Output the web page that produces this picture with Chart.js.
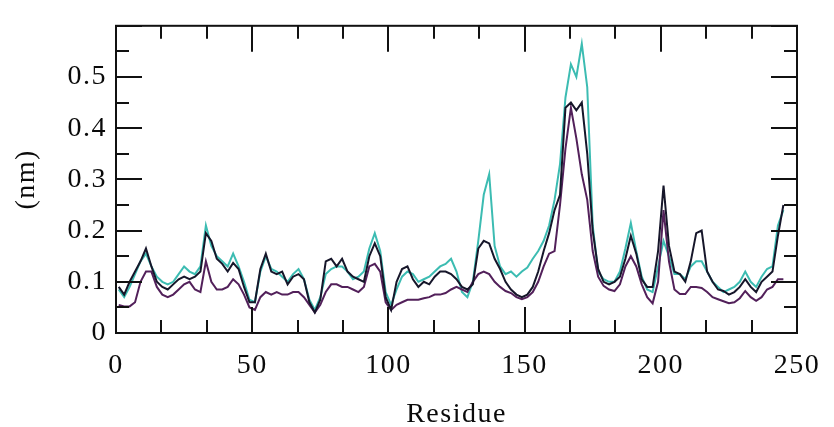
<!DOCTYPE html>
<html lang="en">

<head>
    <meta charset="UTF-8">
    <title>RMSF per residue</title>
    <script src="https://cdn.jsdelivr.net/npm/chart.js@4.4.0/dist/chart.umd.min.js"></script>
    <style>
        body { margin: 0; background: #fff; }
        #chart { display: block; }
    </style>
</head>

<body>
    <canvas id="chart" width="834" height="427"></canvas>
    <script>
        // residue numbers (every second residue)
        const residues = [];
        for (let r = 1; r <= 245; r += 2) residues.push(r);

        const rmsfBlack = [
            0.09, 0.075, 0.10, 0.12, 0.14, 0.165, 0.13, 0.10, 0.09, 0.085,
            0.095, 0.105, 0.11, 0.105, 0.11, 0.12, 0.195, 0.18, 0.145, 0.135,
            0.12, 0.137, 0.125, 0.09, 0.06, 0.06, 0.125, 0.155, 0.12, 0.115,
            0.12, 0.095, 0.11, 0.115, 0.105, 0.06, 0.04, 0.065, 0.14, 0.145,
            0.13, 0.145, 0.12, 0.11, 0.105, 0.10, 0.15, 0.175, 0.15, 0.07,
            0.045, 0.10, 0.125, 0.13, 0.105, 0.09, 0.10, 0.095, 0.11, 0.12,
            0.12, 0.115, 0.105, 0.09, 0.085, 0.095, 0.165, 0.18, 0.175, 0.145,
            0.125, 0.10, 0.085, 0.075, 0.07, 0.075, 0.09, 0.12, 0.16, 0.195,
            0.24, 0.27, 0.44, 0.45, 0.435, 0.45, 0.35, 0.20, 0.125, 0.10,
            0.095, 0.10, 0.11, 0.145, 0.19, 0.155, 0.105, 0.09, 0.09, 0.16,
            0.288, 0.17, 0.12, 0.115, 0.10, 0.14, 0.195, 0.20, 0.12, 0.10,
            0.085, 0.082, 0.075, 0.08, 0.09, 0.105, 0.09, 0.08, 0.10, 0.11,
            0.12, 0.19, 0.25
        ];

        const rmsfCyan = [
            0.085, 0.07, 0.09, 0.115, 0.14, 0.155, 0.13, 0.11, 0.10, 0.095,
            0.10, 0.115, 0.13, 0.12, 0.115, 0.13, 0.21, 0.17, 0.15, 0.14,
            0.13, 0.155, 0.13, 0.10, 0.065, 0.06, 0.12, 0.15, 0.125, 0.12,
            0.11, 0.10, 0.115, 0.125, 0.105, 0.065, 0.045, 0.07, 0.115, 0.125,
            0.13, 0.13, 0.12, 0.105, 0.11, 0.12, 0.165, 0.195, 0.16, 0.08,
            0.055, 0.085, 0.11, 0.12, 0.115, 0.10, 0.105, 0.11, 0.12, 0.13,
            0.135, 0.145, 0.12, 0.08, 0.07, 0.10, 0.18, 0.27, 0.31, 0.17,
            0.13, 0.115, 0.12, 0.11, 0.12, 0.128, 0.145, 0.16, 0.18, 0.21,
            0.26, 0.33, 0.46, 0.525, 0.50, 0.565, 0.48, 0.21, 0.12, 0.105,
            0.10, 0.10, 0.12, 0.165, 0.215, 0.16, 0.11, 0.085, 0.08, 0.13,
            0.18, 0.15, 0.115, 0.115, 0.105, 0.13, 0.14, 0.14, 0.12, 0.10,
            0.09, 0.08, 0.085, 0.09, 0.10, 0.12, 0.10, 0.09, 0.11, 0.125,
            0.13, 0.21, 0.24
        ];

        const rmsfPurple = [
            0.055, 0.052, 0.052, 0.06, 0.10, 0.12, 0.12, 0.09, 0.075, 0.07,
            0.075, 0.085, 0.095, 0.10, 0.085, 0.08, 0.14, 0.10, 0.085, 0.085,
            0.09, 0.105, 0.095, 0.075, 0.05, 0.045, 0.07, 0.08, 0.075, 0.08,
            0.075, 0.075, 0.08, 0.08, 0.07, 0.055, 0.04, 0.055, 0.08, 0.095,
            0.095, 0.09, 0.09, 0.085, 0.08, 0.09, 0.13, 0.135, 0.12, 0.06,
            0.045, 0.055, 0.06, 0.065, 0.065, 0.065, 0.068, 0.07, 0.075, 0.075,
            0.078, 0.085, 0.09, 0.085, 0.08, 0.10, 0.115, 0.12, 0.115, 0.10,
            0.09, 0.082, 0.078, 0.07, 0.066, 0.07, 0.08, 0.10, 0.13, 0.155,
            0.16, 0.25, 0.36, 0.44, 0.38, 0.31, 0.26, 0.16, 0.11, 0.092,
            0.085, 0.082, 0.095, 0.13, 0.15, 0.13, 0.095, 0.07, 0.058, 0.10,
            0.24, 0.14, 0.085, 0.076, 0.076, 0.09, 0.09, 0.088, 0.08, 0.07,
            0.066, 0.062, 0.058, 0.06, 0.068, 0.082, 0.07, 0.063, 0.07, 0.085,
            0.09, 0.105, 0.105
        ];

        const xTicks = [0, 50, 100, 150, 200, 250];
        const yTicks = [0, 0.1, 0.2, 0.3, 0.4, 0.5];

        const toPoints = vals => vals.map((v, i) => ({ x: residues[i], y: v }));

        // the original lettering is a wide Times face, so space it out a little
        const spacingPlugin = {
            id: 'spacing',
            beforeDraw(chart) { chart.ctx.letterSpacing = '1.5px'; },
            afterDraw(chart) { chart.ctx.letterSpacing = '0px'; }
        };

        // frame and inward tick marks (major + minor) on all four sides
        const framePlugin = {
            id: 'frame',
            afterDraw(chart) {
                const { ctx, chartArea: a, scales: { x, y } } = chart;
                ctx.save();
                ctx.strokeStyle = '#111';
                ctx.lineWidth = 2;
                ctx.strokeRect(a.left, a.top, a.right - a.left, a.bottom - a.top);
                ctx.beginPath();
                for (let v = 0; v <= 250.01; v += 50 / 3) {
                    const major = Math.abs(v / 50 - Math.round(v / 50)) < 0.01;
                    const len = major ? 26 : 13;
                    const px = Math.round(x.getPixelForValue(v));
                    ctx.moveTo(px, a.bottom); ctx.lineTo(px, a.bottom - len);
                    ctx.moveTo(px, a.top); ctx.lineTo(px, a.top + len);
                }
                for (let v = 0.05; v <= 0.6; v += 0.05) {
                    const major = Math.abs(v * 10 - Math.round(v * 10)) < 0.01;
                    const len = major ? 26 : 13;
                    const py = Math.round(y.getPixelForValue(v));
                    ctx.moveTo(a.left, py); ctx.lineTo(a.left + len, py);
                    ctx.moveTo(a.right, py); ctx.lineTo(a.right - len, py);
                }
                ctx.stroke();
                ctx.restore();
            }
        };

        const font = { family: '"Liberation Serif", "Times New Roman", serif', size: 28 };

        new Chart(document.getElementById('chart'), {
            type: 'line',
            data: {
                datasets: [
                    { data: toPoints(rmsfBlack), borderColor: '#16162a' },
                    { data: toPoints(rmsfPurple), borderColor: '#52205a' },
                    { data: toPoints(rmsfCyan), borderColor: '#3cbcb2' }
                ]
            },
            options: {
                responsive: false,
                animation: false,
                parsing: false,
                datasets: {
                    line: { borderWidth: 2, pointRadius: 0, tension: 0, fill: false }
                },
                layout: { padding: { top: 16, right: 30, left: 0, bottom: 0 } },
                plugins: { legend: { display: false }, tooltip: { enabled: false } },
                scales: {
                    x: {
                        type: 'linear', min: 0, max: 250,
                        grid: { display: false, drawTicks: false },
                        border: { display: false },
                        afterBuildTicks: s => { s.ticks = xTicks.map(v => ({ value: v })); },
                        afterFit: s => { s.height = 94; },
                        ticks: { color: '#0a0a0a', font, padding: 16, maxRotation: 0 },
                        title: { display: true, text: 'Residue', color: '#0a0a0a', font: { ...font, lineHeight: 1.2 }, padding: { top: 0, bottom: -4 } }
                    },
                    y: {
                        type: 'linear', min: 0, max: 0.6,
                        grid: { display: false, drawTicks: false },
                        border: { display: false },
                        afterBuildTicks: s => { s.ticks = yTicks.map(v => ({ value: v })); },
                        afterFit: s => { s.width = 116; },
                        ticks: { color: '#0a0a0a', font, padding: 9, callback: v => String(v) },
                        title: { display: true, text: '(nm)', color: '#0a0a0a', font: { ...font, lineHeight: 1.2 }, padding: { top: 10, bottom: 0 } }
                    }
                }
            },
            plugins: [spacingPlugin, framePlugin]
        });
    </script>
</body>

</html>
